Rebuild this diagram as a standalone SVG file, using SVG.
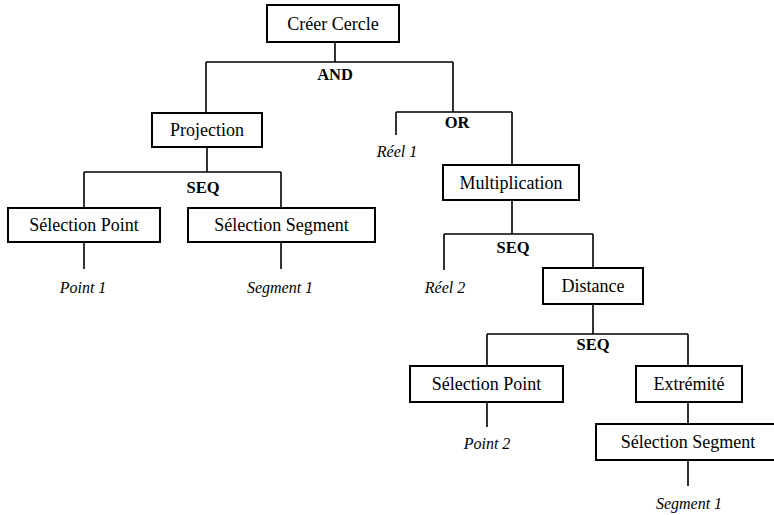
<svg xmlns="http://www.w3.org/2000/svg" width="774" height="515" viewBox="0 0 774 515">
<style>
.box{fill:#fff;stroke:#000;stroke-width:2}
text{font-family:'Liberation Serif','Times New Roman','DejaVu Serif',serif;fill:#000;text-anchor:middle}
.lbl{font-size:18px}
.op{font-size:16.5px;font-weight:bold}
.leaf{font-size:16px;font-style:italic}
.ln{fill:none;stroke:#000;stroke-width:1.6}
</style>
<rect width="774" height="515" fill="#fff"/>
<g id="connectors">
<path class="ln" d="M335,42 V62 M206,62 H453 M206,62 V113 M453,62 V112"/>
<path class="ln" d="M396,112 H512 M396,112 V135 M512,112 V165"/>
<path class="ln" d="M207,147 V172 M84,172 H281 M84,172 V208 M281,172 V208"/>
<path class="ln" d="M84,242 V269 M281,242 V269"/>
<path class="ln" d="M512,200 V234 M444,234 H593 M444,234 V270 M593,234 V268"/>
<path class="ln" d="M593,304 V334 M487,334 H688 M487,334 V366 M688,334 V366"/>
<path class="ln" d="M487,402 V427 M688,402 V424 M688,460 V486"/>
</g>
<g id="op-and"><text class="op" x="335" y="80">AND</text></g>
<g id="op-or"><text class="op" x="457" y="128">OR</text></g>
<g id="op-seq1"><text class="op" x="203" y="193">SEQ</text></g>
<g id="op-seq2"><text class="op" x="513" y="253">SEQ</text></g>
<g id="op-seq3"><text class="op" x="593" y="350">SEQ</text></g>
<g id="creer-cercle"><rect class="box" x="267" y="5" width="132" height="37"/><text class="lbl" x="333" y="30">Créer Cercle</text></g>
<g id="projection"><rect class="box" x="152" y="113" width="110" height="34"/><text class="lbl" x="207" y="136">Projection</text></g>
<g id="selection-point-1"><rect class="box" x="8" y="208" width="152" height="34"/><text class="lbl" x="84" y="231">Sélection Point</text></g>
<g id="selection-segment-1"><rect class="box" x="188" y="208" width="187" height="34"/><text class="lbl" x="281.5" y="231">Sélection Segment</text></g>
<g id="point-1"><text class="leaf" x="83" y="293">Point 1</text></g>
<g id="segment-1a"><text class="leaf" x="280" y="293">Segment 1</text></g>
<g id="reel-1"><text class="leaf" x="397" y="157">Réel 1</text></g>
<g id="multiplication"><rect class="box" x="443" y="165" width="136" height="35"/><text class="lbl" x="511" y="189">Multiplication</text></g>
<g id="reel-2"><text class="leaf" x="445" y="293">Réel 2</text></g>
<g id="distance"><rect class="box" x="543" y="268" width="100" height="36"/><text class="lbl" x="593" y="292">Distance</text></g>
<g id="selection-point-2"><rect class="box" x="410" y="366" width="153" height="36"/><text class="lbl" x="486.5" y="390">Sélection Point</text></g>
<g id="extremite"><rect class="box" x="636" y="366" width="106" height="36"/><text class="lbl" x="689" y="390">Extrémité</text></g>
<g id="point-2"><text class="leaf" x="487" y="449">Point 2</text></g>
<g id="selection-segment-2"><rect class="box" x="596" y="424" width="190" height="36"/><text class="lbl" x="688" y="448">Sélection Segment</text></g>
<g id="segment-1b"><text class="leaf" x="689" y="509">Segment 1</text></g>
</svg>
